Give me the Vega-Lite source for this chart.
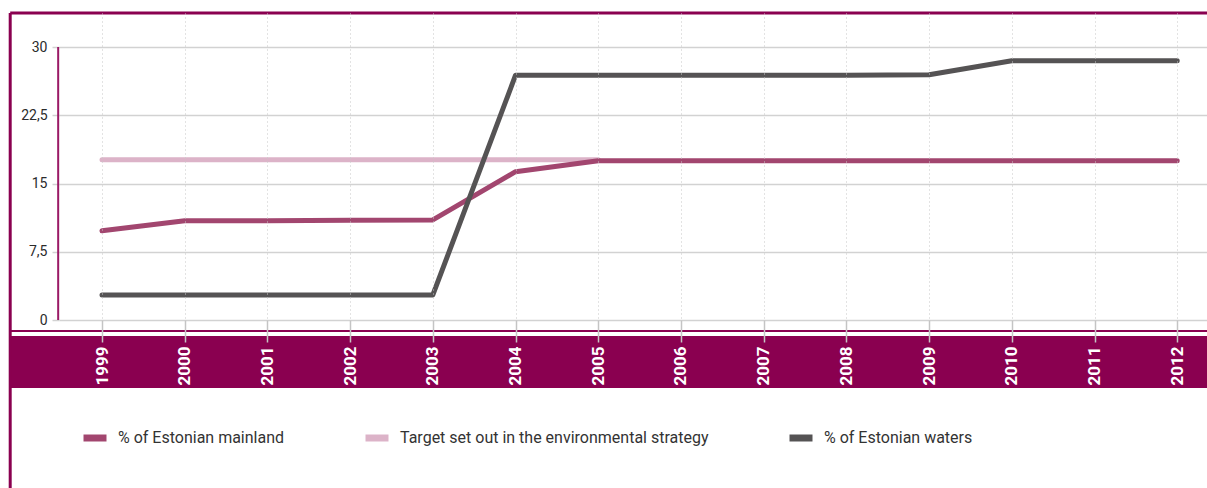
{
  "$schema": "https://vega.github.io/schema/vega-lite/v6.json",
  "width": 1148,
  "height": 307,
  "autosize": {"type": "none"},
  "padding": {"left": 59, "top": 13, "right": 0, "bottom": 168},
  "background": "#ffffff",
  "config": {
    "view": {"stroke": null},
    "font": "Roboto, sans-serif"
  },
  "layer": [
    {
      "data": {"values": [{}]},
      "mark": {"type": "rect", "fill": "#8a0050", "clip": false},
      "encoding": {
        "x": {"datum": 1997.89, "type": "quantitative", "scale": {"domain": [1998.48, 2012.36], "nice": false, "zero": false}},
        "x2": {"datum": 2013},
        "y": {"datum": -1.76, "type": "quantitative", "scale": {"domain": [0, 33.74], "nice": false, "zero": false}},
        "y2": {"datum": -7.47}
      }
    },
    {
      "data": {"values": [{}]},
      "mark": {"type": "rule", "stroke": "#8a0050", "strokeWidth": 2, "clip": false},
      "encoding": {
        "x": {"datum": 1997.89, "type": "quantitative"},
        "x2": {"datum": 2013},
        "y": {"datum": -1.21, "type": "quantitative"}
      }
    },
    {
      "data": {"values": [{}]},
      "mark": {"type": "rule", "stroke": "#8a0050", "strokeWidth": 3, "clip": false},
      "encoding": {
        "x": {"datum": 1997.89, "type": "quantitative"},
        "x2": {"datum": 2013},
        "y": {"datum": 33.74, "type": "quantitative"}
      }
    },
    {
      "data": {"values": [{}]},
      "mark": {"type": "rule", "stroke": "#8a0050", "strokeWidth": 3, "clip": false},
      "encoding": {
        "x": {"datum": 1997.89, "type": "quantitative"},
        "y": {"datum": 33.74, "type": "quantitative"},
        "y2": {"datum": -19}
      }
    },
    {
      "data": {"values": [{}]},
      "mark": {"type": "rule", "stroke": "#9a1a66", "strokeWidth": 2, "clip": false},
      "encoding": {
        "x": {"datum": 1998.47, "type": "quantitative"},
        "y": {"datum": 0, "type": "quantitative"},
        "y2": {"datum": 30}
      }
    },
    {
      "data": {
        "values": [
          {"series": "Target set out in the environmental strategy", "year": 1999, "value": 17.6},
          {"series": "Target set out in the environmental strategy", "year": 2000, "value": 17.6},
          {"series": "Target set out in the environmental strategy", "year": 2001, "value": 17.6},
          {"series": "Target set out in the environmental strategy", "year": 2002, "value": 17.6},
          {"series": "Target set out in the environmental strategy", "year": 2003, "value": 17.6},
          {"series": "Target set out in the environmental strategy", "year": 2004, "value": 17.6},
          {"series": "Target set out in the environmental strategy", "year": 2005, "value": 17.6},
          {"series": "% of Estonian mainland", "year": 1999, "value": 9.8},
          {"series": "% of Estonian mainland", "year": 2000, "value": 10.9},
          {"series": "% of Estonian mainland", "year": 2001, "value": 10.9},
          {"series": "% of Estonian mainland", "year": 2002, "value": 10.95},
          {"series": "% of Estonian mainland", "year": 2003, "value": 11.0},
          {"series": "% of Estonian mainland", "year": 2004, "value": 16.3},
          {"series": "% of Estonian mainland", "year": 2005, "value": 17.5},
          {"series": "% of Estonian mainland", "year": 2006, "value": 17.5},
          {"series": "% of Estonian mainland", "year": 2007, "value": 17.5},
          {"series": "% of Estonian mainland", "year": 2008, "value": 17.5},
          {"series": "% of Estonian mainland", "year": 2009, "value": 17.5},
          {"series": "% of Estonian mainland", "year": 2010, "value": 17.5},
          {"series": "% of Estonian mainland", "year": 2011, "value": 17.5},
          {"series": "% of Estonian mainland", "year": 2012, "value": 17.5},
          {"series": "% of Estonian waters", "year": 1999, "value": 2.75},
          {"series": "% of Estonian waters", "year": 2000, "value": 2.75},
          {"series": "% of Estonian waters", "year": 2001, "value": 2.75},
          {"series": "% of Estonian waters", "year": 2002, "value": 2.75},
          {"series": "% of Estonian waters", "year": 2003, "value": 2.75},
          {"series": "% of Estonian waters", "year": 2004, "value": 26.9},
          {"series": "% of Estonian waters", "year": 2005, "value": 26.9},
          {"series": "% of Estonian waters", "year": 2006, "value": 26.9},
          {"series": "% of Estonian waters", "year": 2007, "value": 26.9},
          {"series": "% of Estonian waters", "year": 2008, "value": 26.9},
          {"series": "% of Estonian waters", "year": 2009, "value": 26.95},
          {"series": "% of Estonian waters", "year": 2010, "value": 28.5},
          {"series": "% of Estonian waters", "year": 2011, "value": 28.5},
          {"series": "% of Estonian waters", "year": 2012, "value": 28.5}
        ]
      },
      "mark": {"type": "line", "strokeWidth": 5, "strokeCap": "round", "strokeJoin": "round", "clip": false},
      "encoding": {
        "x": {
          "field": "year", "type": "quantitative",
          "scale": {"domain": [1998.48, 2012.36], "nice": false, "zero": false},
          "axis": {
            "title": null,
            "values": [1999, 2000, 2001, 2002, 2003, 2004, 2005, 2006, 2007, 2008, 2009, 2010, 2011, 2012],
            "format": "d",
            "domain": false,
            "grid": true,
            "gridColor": "#c6c6c6",
            "gridDash": [1, 3],
            "gridWidth": 1,
            "ticks": true,
            "tickSize": 22,
            "tickColor": "#c4c4c4",
            "tickWidth": 1.5,
            "labelAngle": -90,
            "labelColor": "#ffffff",
            "labelFontWeight": "bold",
            "labelFontSize": 17,
            "labelPadding": 4,
            "labelFont": "Roboto, sans-serif",
            "zindex": 1
          }
        },
        "y": {
          "field": "value", "type": "quantitative",
          "scale": {"domain": [0, 33.74], "nice": false, "zero": false},
          "axis": {
            "title": null,
            "values": [0, 7.5, 15, 22.5, 30],
            "format": ".1~f",
            "labelExpr": "replace(datum.label, '.', ',')",
            "domain": false,
            "grid": true,
            "gridColor": "#d2d2d2",
            "gridWidth": 1.5,
            "ticks": true,
            "tickSize": 7,
            "tickColor": "#d2d2d2",
            "tickWidth": 1.5,
            "labelPadding": 5,
            "labelFontSize": 14,
            "labelColor": "#2b2b2b",
            "labelFont": "Roboto, sans-serif"
          }
        },
        "color": {
          "field": "series", "type": "nominal",
          "scale": {
            "domain": ["% of Estonian mainland", "Target set out in the environmental strategy", "% of Estonian waters"],
            "range": ["#a2466f", "#dcb3c8", "#555354"]
          },
          "legend": {
            "title": null,
            "orient": "none",
            "direction": "horizontal",
            "legendX": 21,
            "legendY": 410,
            "symbolType": "stroke",
            "symbolStrokeWidth": 7,
            "symbolSize": 529,
            "labelFontSize": 16,
            "labelColor": "#333333",
            "labelLimit": 600,
            "labelOffset": 8,
            "columnPadding": 66,
            "labelFont": "Roboto, sans-serif"
          }
        }
      }
    }
  ]
}
